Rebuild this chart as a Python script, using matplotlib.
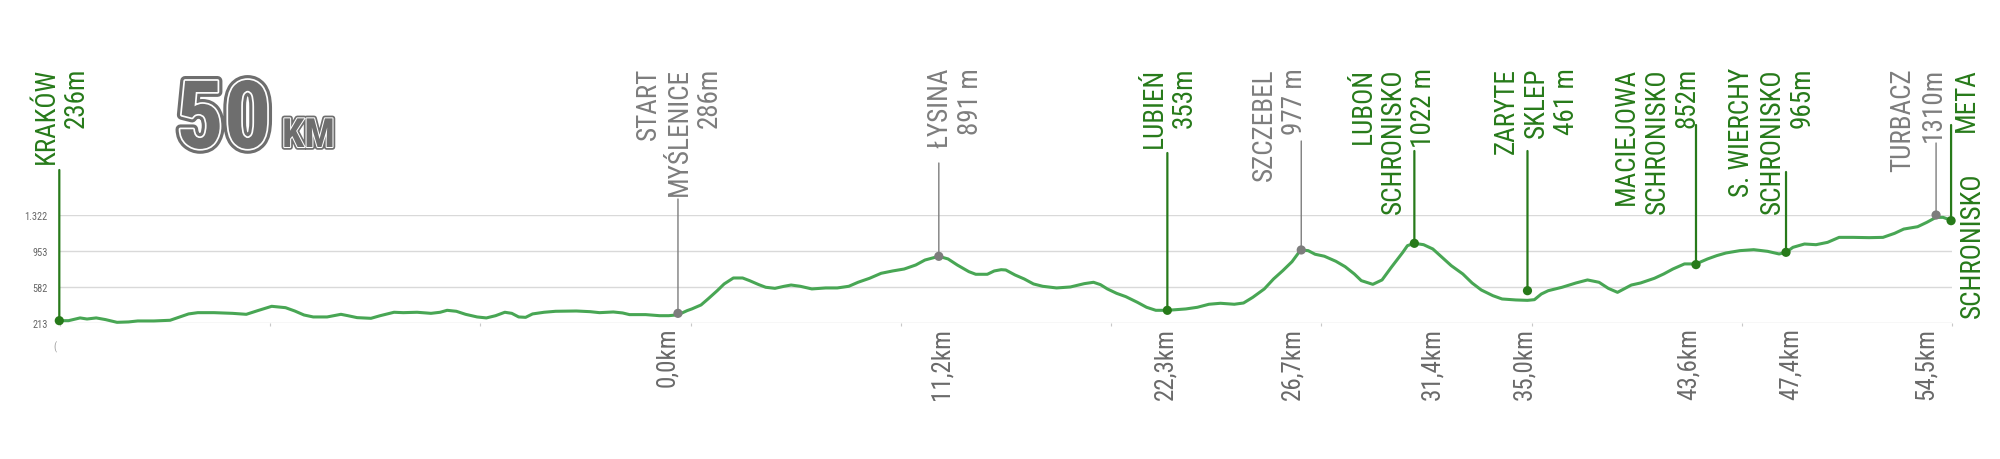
import numpy as np
import matplotlib
matplotlib.use("Agg")
import matplotlib.pyplot as plt
from matplotlib import transforms, patheffects, font_manager

# elevation profile, km from start (Myślenice), metres
profile_km = [-26.8, -26.4, -25.9, -25.6, -25.2, -24.8, -24.3, -23.8, -23.4, -22.7,
              -22.0, -21.7, -21.2, -20.8, -20.1, -19.3, -18.7, -18.2, -17.6, -17.0,
              -16.6, -16.2, -15.8, -15.2, -14.9, -14.6, -14.3, -13.9, -13.3, -12.9,
              -12.3, -11.9, -11.3, -10.7, -10.3, -10.0, -9.6, -9.2, -8.7, -8.3,
              -7.9, -7.5, -7.2, -6.9, -6.6, -6.3, -5.8, -5.3, -4.4, -3.8,
              -3.4, -2.8, -2.4, -2.1, -1.4, -0.8, -0.4, 0.0, 0.4, 0.6,
              1.0, 1.3, 1.7, 2.0, 2.4, 2.8, 3.1, 3.5, 3.8, 4.2,
              4.6, 4.9, 5.3, 5.8, 6.4, 6.9, 7.4, 7.8, 8.3, 8.8,
              9.3, 9.8, 10.3, 10.7, 11.3, 11.7, 12.1, 12.6, 12.9, 13.4,
              13.7, 14.0, 14.2, 14.6, 15.0, 15.4, 15.8, 16.4, 17.0, 17.6,
              18.0, 18.3, 18.6, 19.0, 19.4, 19.9, 20.3, 20.7, 21.2, 21.6,
              22.0, 22.5, 23.0, 23.5, 24.1, 24.5, 24.9, 25.4, 25.8, 26.2,
              26.6, 26.9, 27.0, 27.3, 27.6, 28.0, 28.5, 28.9, 29.3, 29.6,
              30.1, 30.5, 30.9, 31.4, 31.6, 31.9, 32.3, 32.7, 33.1, 33.5,
              34.0, 34.4, 34.8, 35.3, 35.7, 36.3, 36.8, 37.1, 37.4, 37.7,
              38.3, 38.9, 39.4, 39.9, 40.3, 40.7, 41.3, 41.7, 42.3, 42.7,
              43.1, 43.6, 44.1, 44.6, 45.0, 45.4, 46.0, 46.6, 47.2, 47.7,
              48.0, 48.3, 48.8, 49.3, 49.8, 50.3, 50.9, 51.6, 52.2, 52.7,
              53.1, 53.7, 54.1, 54.5, 54.8, 55.2]
profile_m = [240, 240, 268, 257, 268, 251, 223, 227, 237, 237,
             244, 268, 309, 322, 322, 315, 305, 343, 387, 373,
             339, 298, 278, 278, 291, 305, 291, 271, 264, 291,
             326, 322, 326, 315, 326, 346, 336, 305, 278, 268,
             291, 326, 315, 278, 274, 309, 326, 336, 339, 332,
             322, 329, 319, 302, 302, 291, 291, 300, 343, 360,
             401, 462, 547, 616, 677, 677, 650, 609, 582, 571,
             592, 605, 592, 565, 575, 575, 592, 633, 674, 725,
             749, 769, 810, 861, 899, 872, 810, 742, 715, 715,
             749, 762, 759, 708, 667, 616, 592, 575, 585, 619,
             633, 609, 565, 520, 486, 428, 377, 346, 346, 353,
             360, 377, 408, 418, 408, 421, 479, 565, 667, 752,
             844, 940, 964, 957, 920, 900, 848, 793, 718, 650,
             612, 657, 786, 940, 1008, 1032, 1018, 974, 889, 803,
             718, 626, 554, 496, 462, 452, 448, 455, 513, 547,
             582, 626, 657, 633, 571, 530, 605, 626, 674, 718,
             769, 821, 821, 872, 906, 933, 957, 967, 950, 923,
             940, 991, 1025, 1018, 1042, 1093, 1093, 1090, 1093, 1134,
             1178, 1202, 1247, 1298, 1298, 1264]

place_label = ["KRAKÓW\n236m", "START\nMYŚLENICE\n286m", "ŁYSINA\n891 m", "LUBIEŃ\n353m",
               "SZCZEBEL\n977 m", "LUBOŃ\nSCHRONISKO\n1022 m", "ZARYTE\nSKLEP\n461 m",
               "MACIEJOWA\nSCHRONISKO\n852m", "S. WIERCHY\nSCHRONISKO\n965m",
               "TURBACZ\n1310m", "META"]
place_km = [-26.8, 0.0, 11.3, 21.2, 27.0, 31.9, 36.8, 44.1, 48.0, 54.5, 55.15]
place_m = [240, 315, 899, 346, 964, 1032, 547, 814, 940, 1322, 1264]
checkpoint = [True, False, False, True, False, True, True, True, True, False, True]

km_labels = ["0,0km", "11,2km", "22,3km", "26,7km", "31,4km", "35,0km", "43,6km", "47,4km", "54,5km"]
km_place = [1, 2, 3, 4, 5, 6, 7, 8, 9]

grid_m = [213, 582.67, 952.33, 1322]
grid_labels = ["213", "582", "953", "1.322"]

# layout (pixels)
label_dx = [2, 1, 16, 2, -22, -21, 9, -39, -14, -18, 15]
stem_top = [171, 200, 164, 154, 142, 152, 152, 126, 173, 144, 126]
km_dx = [-11, 3, -2, -9, 18, -3, -7, 5, -10]

W, H = 2000, 460
avail = {f.name for f in font_manager.fontManager.ttflist}
narrow = [f for f in ["Liberation Sans Narrow", "Roboto Condensed", "Arial Narrow"] if f in avail]
if narrow:
    font, fs_top, fs_km, lsp = narrow[0], 19.5, 18, 1.16
else:
    font, fs_top, fs_km, lsp = "Roboto", 17, 15.5, 1.38
plt.rcParams["font.family"] = [font, "DejaVu Sans"]

GREEN = "#277a1a"
GRAY = "#7d7d7d"
LINE = "#48a654"

fig = plt.figure(figsize=(W / 100, H / 100), dpi=100)
ax = fig.add_axes([60 / W, (H - 324.3) / H, 1892 / W, 108.3 / H])
xlim = (-26.77, 55.19)
ax.set_xlim(*xlim)
ax.set_ylim(213, 1322)
for s in ax.spines.values():
    s.set_visible(False)
ax.set_yticks(grid_m, grid_labels)
ax.grid(axis="y", color="#d9d9d9", lw=1.0)
ax.set_axisbelow(True)
ax.tick_params(axis="y", length=0, pad=9, labelsize=7.5, labelcolor="#666666")
ax.set_xticks(np.linspace(*xlim, 10), [""] * 10)
ax.tick_params(axis="x", length=2.5, width=0.8, color="#c8c8c8")

ax.plot(profile_km, profile_m, color=LINE, lw=2.2, solid_joinstyle="round",
        solid_capstyle="round", zorder=3, clip_on=False)

base = transforms.blended_transform_factory(ax.transData, fig.transFigure)
colors = [GREEN if c else GRAY for c in checkpoint]

for i, (lab, km, m) in enumerate(zip(place_label, place_km, place_m)):
    c = colors[i]
    ax.annotate("", xy=(km, m), xycoords="data", xytext=(km, 1 - stem_top[i] / H),
                textcoords=base, annotation_clip=False, zorder=2,
                arrowprops=dict(arrowstyle="-", color=c, lw=1.6 if checkpoint[i] else 1.0,
                                shrinkA=0, shrinkB=0))
    tr = transforms.offset_copy(base, fig=fig, x=label_dx[i], y=0, units="dots")
    ax.text(km, 1 - 68 / H, lab, transform=tr, rotation=90, ha="center", va="top",
            ma="right", fontsize=fs_top, color=c, linespacing=lsp, clip_on=False)

tr = transforms.offset_copy(base, fig=fig, x=21, y=0, units="dots")
ax.text(place_km[-1], 1 - 172 / H, "SCHRONISKO", transform=tr, rotation=90,
        ha="center", va="top", fontsize=fs_top, color=GREEN, clip_on=False)

ax.scatter(place_km, place_m, s=44, c=colors, zorder=5, clip_on=False, linewidths=0)

for lab, p, dx in zip(km_labels, km_place, km_dx):
    tr = transforms.offset_copy(base, fig=fig, x=dx, y=0, units="dots")
    ax.text(place_km[p], 1 - 328 / H, lab, transform=tr, rotation=90, ha="center",
            va="top", fontsize=fs_km, color="#6a6a6a", clip_on=False)

fig.text(55 / W, 1 - 347 / H, "(", fontsize=7, color="#9a9a9a", ha="center", va="center")

logo_fx = [patheffects.Stroke(linewidth=7, foreground="#6e6e6e"),
           patheffects.Stroke(linewidth=2.5, foreground="white"),
           patheffects.Normal()]
fig.text(176 / W, 1 - 149 / H, "50", fontsize=68, fontweight="bold", color="#6e6e6e",
         ha="left", va="baseline", path_effects=logo_fx)
fig.text(282 / W, 1 - 148 / H, "KM", fontsize=29, fontweight="bold", color="#6e6e6e",
         ha="left", va="baseline",
         path_effects=[patheffects.Stroke(linewidth=4, foreground="#6e6e6e"),
                       patheffects.Stroke(linewidth=1.5, foreground="white"),
                       patheffects.Normal()])

fig.savefig("out.png", dpi=100)
